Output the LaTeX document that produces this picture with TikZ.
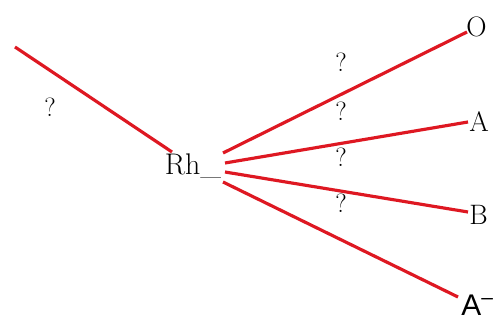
\documentclass[tikz,border=0pt]{standalone}
\usepackage{fontspec}
\newfontfamily\labelsans{Liberation Sans}
\usepackage{tikz}
\usetikzlibrary{positioning}
\definecolor{bondred}{RGB}{222,24,34}

\begin{document}
\begin{tikzpicture}[
    x=0.02cm, y=-0.02cm,
    bond/.style={draw=bondred, line width=1.8pt},
    atom/.style={inner sep=0pt, font=\fontsize{16}{18}\selectfont},
    qmark/.style={inner sep=0pt, font=\fontsize{15}{17}\selectfont}
]
\useasboundingbox (0,0) rectangle (503,323);

% Centre
\node[atom, font=\fontsize{17}{20}\selectfont] (rh) at (193,166) {Rh\_};

% End points of the bonds
\coordinate (left-end) at (15,47);
\coordinate (rh-in) at (172,152);
\coordinate (rh-o) at (223,153);
\coordinate (rh-a) at (225,163);
\coordinate (rh-b) at (225,172);
\coordinate (rh-am) at (223,182);
\coordinate (o-end) at (467,32);
\coordinate (a-end) at (468,122);
\coordinate (b-end) at (468,212);
\coordinate (am-end) at (458,297);

% Labels
\node[atom, anchor=west] (o) at (466,27) {O};
\node[atom, anchor=west] (a) at (469,122) {A};
\node[atom, anchor=west] (b) at (469,215) {B};
\node[inner sep=0pt, anchor=base west, font=\labelsans\fontsize{17}{19}\selectfont] (am) at (461,316) {A\textsuperscript{–}};

% Question marks
\node[qmark] (q1) at (50,107) {?};
\node[qmark] (q2) at (341,62) {?};
\node[qmark] (q3) at (341,111) {?};
\node[qmark] (q4) at (341,157) {?};
\node[qmark] (q5) at (341,203) {?};

% Bonds
\draw[bond] (left-end) -- (rh-in);
\draw[bond] (rh-o) -- (o-end);
\draw[bond] (rh-a) -- (a-end);
\draw[bond] (rh-b) -- (b-end);
\draw[bond] (rh-am) -- (am-end);

\end{tikzpicture}
\end{document}
